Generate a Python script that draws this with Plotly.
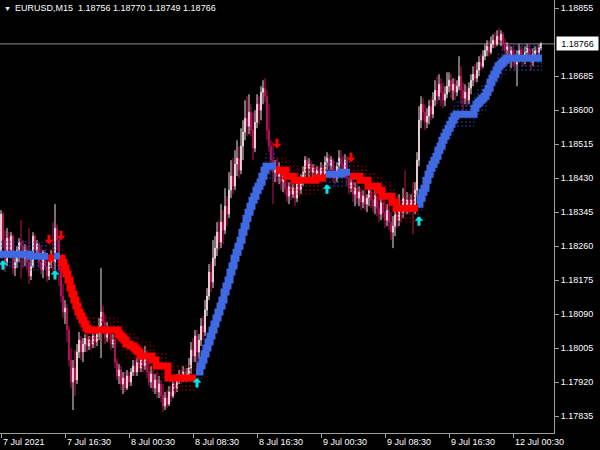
import plotly.graph_objects as go

# ---------------- data ----------------
symbol = "EURUSD,M15"

tick_bars = [0, 32, 64, 96, 128, 160, 192, 224, 256]
tick_labels = ["7 Jul 2021", "7 Jul 16:30", "8 Jul 00:30", "8 Jul 08:30", "8 Jul 16:30",
               "9 Jul 00:30", "9 Jul 08:30", "9 Jul 16:30", "12 Jul 00:30"]

price_ticks = [1.17835, 1.17920, 1.18005, 1.18090, 1.18175, 1.18260, 1.18345,
               1.18430, 1.18515, 1.18600, 1.18685, 1.18855]

opens = [
    1.18235, 1.18340, 1.18275, 1.18220, 1.18280, 1.18250, 1.18285, 1.18205, 1.18220, 1.18250,
    1.18270, 1.18260, 1.18230, 1.18250, 1.18220, 1.18185, 1.18210, 1.18285, 1.18250, 1.18265,
    1.18220, 1.18200, 1.18245, 1.18210, 1.18185, 1.18220, 1.18235, 1.18220, 1.18305, 1.18275,
    1.18200, 1.18135, 1.18095, 1.18105, 1.18050, 1.17975, 1.17920, 1.17955, 1.17925, 1.17995,
    1.18025, 1.17995, 1.18015, 1.18030, 1.18010, 1.18025, 1.18015, 1.18035, 1.18020, 1.18040,
    1.18060, 1.18095, 1.18070, 1.18030, 1.18055, 1.18040, 1.18015, 1.18025, 1.17970, 1.17935,
    1.17950, 1.17915, 1.17930, 1.17905, 1.17935, 1.17920, 1.17945, 1.17960, 1.17945, 1.17970,
    1.17955, 1.17975, 1.17960, 1.17985, 1.17945, 1.17920, 1.17940, 1.17905, 1.17925, 1.17895,
    1.17915, 1.17885, 1.17860, 1.17880, 1.17865, 1.17895, 1.17885, 1.17915, 1.17905, 1.17925,
    1.17935, 1.17925, 1.17945, 1.17930, 1.17940, 1.17955, 1.18000, 1.17985, 1.18035, 1.17995,
    1.18025, 1.18060, 1.18045, 1.18100, 1.18135, 1.18195, 1.18170, 1.18230, 1.18255, 1.18295,
    1.18270, 1.18320, 1.18300, 1.18360, 1.18340, 1.18400, 1.18435, 1.18410, 1.18465, 1.18480,
    1.18450, 1.18510, 1.18545, 1.18580, 1.18560, 1.18595, 1.18550, 1.18505, 1.18570, 1.18615,
    1.18600, 1.18645, 1.18655, 1.18635, 1.18550, 1.18510, 1.18475, 1.18445, 1.18460, 1.18435,
    1.18450, 1.18420, 1.18435, 1.18405, 1.18385, 1.18410, 1.18390, 1.18405, 1.18380, 1.18415,
    1.18400, 1.18425, 1.18445, 1.18475, 1.18455, 1.18465, 1.18445, 1.18455, 1.18440, 1.18450,
    1.18435, 1.18455, 1.18440, 1.18470, 1.18480, 1.18460, 1.18475, 1.18445, 1.18430, 1.18460,
    1.18480, 1.18465, 1.18450, 1.18475, 1.18430, 1.18405, 1.18420, 1.18390, 1.18405, 1.18380,
    1.18395, 1.18370, 1.18385, 1.18365, 1.18380, 1.18400, 1.18375, 1.18360, 1.18385, 1.18355,
    1.18340, 1.18370, 1.18345, 1.18325, 1.18350, 1.18320, 1.18295, 1.18310, 1.18340, 1.18325,
    1.18360, 1.18345, 1.18380, 1.18360, 1.18375, 1.18355, 1.18375, 1.18350, 1.18400, 1.18475,
    1.18575, 1.18615, 1.18595, 1.18570, 1.18585, 1.18610, 1.18590, 1.18625, 1.18650, 1.18635,
    1.18665, 1.18645, 1.18625, 1.18640, 1.18660, 1.18675, 1.18650, 1.18665, 1.18645, 1.18660,
    1.18685, 1.18650, 1.18630, 1.18645, 1.18625, 1.18655, 1.18675, 1.18690, 1.18680, 1.18700,
    1.18720, 1.18710, 1.18735, 1.18750, 1.18760, 1.18745, 1.18765, 1.18775, 1.18765, 1.18785,
    1.18775, 1.18790, 1.18765, 1.18750, 1.18760, 1.18735, 1.18750, 1.18730, 1.18715, 1.18735,
    1.18750, 1.18740, 1.18725, 1.18745, 1.18755, 1.18735, 1.18720, 1.18740, 1.18750, 1.18745,
    1.18756,
]

highs = [
    1.18350, 1.18345, 1.18300, 1.18305, 1.18295, 1.18295, 1.18290, 1.18240, 1.18260, 1.18280,
    1.18325, 1.18275, 1.18265, 1.18260, 1.18305, 1.18230, 1.18295, 1.18290, 1.18275, 1.18270,
    1.18260, 1.18250, 1.18250, 1.18225, 1.18230, 1.18250, 1.18320, 1.18365, 1.18315, 1.18285,
    1.18220, 1.18165, 1.18125, 1.18115, 1.18060, 1.18005, 1.17975, 1.18000, 1.18015, 1.18045,
    1.18035, 1.18030, 1.18040, 1.18040, 1.18035, 1.18035, 1.18050, 1.18045, 1.18050, 1.18080,
    1.18205, 1.18110, 1.18090, 1.18070, 1.18060, 1.18050, 1.18040, 1.18030, 1.17980, 1.17965,
    1.17960, 1.17945, 1.17945, 1.17950, 1.17945, 1.17955, 1.17975, 1.17975, 1.17980, 1.17985,
    1.17990, 1.17995, 1.18010, 1.18000, 1.17970, 1.17960, 1.17950, 1.17940, 1.17945, 1.17935,
    1.17925, 1.17915, 1.17895, 1.17900, 1.17910, 1.17910, 1.17930, 1.17935, 1.17940, 1.17950,
    1.17950, 1.17960, 1.17955, 1.17955, 1.17980, 1.18020, 1.18030, 1.18050, 1.18050, 1.18040,
    1.18080, 1.18085, 1.18125, 1.18155, 1.18215, 1.18220, 1.18275, 1.18285, 1.18320, 1.18325,
    1.18365, 1.18350, 1.18405, 1.18385, 1.18445, 1.18475, 1.18480, 1.18500, 1.18525, 1.18510,
    1.18555, 1.18575, 1.18625, 1.18635, 1.18640, 1.18615, 1.18595, 1.18600, 1.18640, 1.18635,
    1.18660, 1.18675, 1.18680, 1.18650, 1.18615, 1.18525, 1.18520, 1.18475, 1.18480, 1.18470,
    1.18455, 1.18450, 1.18445, 1.18425, 1.18420, 1.18420, 1.18415, 1.18430, 1.18430, 1.18435,
    1.18440, 1.18460, 1.18485, 1.18485, 1.18480, 1.18475, 1.18465, 1.18465, 1.18460, 1.18460,
    1.18470, 1.18465, 1.18485, 1.18495, 1.18490, 1.18485, 1.18480, 1.18460, 1.18470, 1.18500,
    1.18500, 1.18485, 1.18490, 1.18485, 1.18445, 1.18435, 1.18430, 1.18420, 1.18415, 1.18410,
    1.18405, 1.18400, 1.18400, 1.18390, 1.18415, 1.18415, 1.18395, 1.18405, 1.18400, 1.18380,
    1.18390, 1.18385, 1.18375, 1.18365, 1.18365, 1.18345, 1.18335, 1.18360, 1.18385, 1.18390,
    1.18375, 1.18405, 1.18450, 1.18395, 1.18390, 1.18390, 1.18420, 1.18420, 1.18495, 1.18610,
    1.18635, 1.18630, 1.18615, 1.18605, 1.18625, 1.18630, 1.18645, 1.18675, 1.18685, 1.18690,
    1.18680, 1.18670, 1.18660, 1.18695, 1.18695, 1.18690, 1.18680, 1.18680, 1.18675, 1.18735,
    1.18710, 1.18670, 1.18665, 1.18660, 1.18670, 1.18690, 1.18710, 1.18715, 1.18720, 1.18735,
    1.18740, 1.18750, 1.18765, 1.18775, 1.18775, 1.18785, 1.18790, 1.18795, 1.18800, 1.18805,
    1.18800, 1.18795, 1.18780, 1.18770, 1.18765, 1.18760, 1.18760, 1.18750, 1.18750, 1.18765,
    1.18760, 1.18755, 1.18760, 1.18765, 1.18765, 1.18755, 1.18755, 1.18760, 1.18760, 1.18765,
    1.18770,
]

lows = [
    1.18230, 1.18255, 1.18195, 1.18210, 1.18235, 1.18230, 1.18190, 1.18185, 1.18205, 1.18220,
    1.18180, 1.18205, 1.18210, 1.18200, 1.18165, 1.18175, 1.18205, 1.18230, 1.18235, 1.18205,
    1.18190, 1.18180, 1.18200, 1.18170, 1.18175, 1.18205, 1.18195, 1.18200, 1.18250, 1.18160,
    1.18120, 1.18080, 1.18065, 1.18020, 1.17960, 1.17905, 1.17850, 1.17885, 1.17915, 1.17980,
    1.17975, 1.17970, 1.17995, 1.17995, 1.18000, 1.18000, 1.18005, 1.18005, 1.18010, 1.18025,
    1.17980, 1.18050, 1.18015, 1.18020, 1.18025, 1.18000, 1.18005, 1.17955, 1.17925, 1.17915,
    1.17900, 1.17890, 1.17895, 1.17900, 1.17910, 1.17910, 1.17935, 1.17935, 1.17935, 1.17945,
    1.17945, 1.17945, 1.17950, 1.17930, 1.17910, 1.17905, 1.17895, 1.17890, 1.17880, 1.17880,
    1.17870, 1.17845, 1.17850, 1.17855, 1.17860, 1.17870, 1.17880, 1.17890, 1.17895, 1.17915,
    1.17915, 1.17920, 1.17920, 1.17920, 1.17930, 1.17940, 1.17970, 1.17970, 1.17945, 1.17980,
    1.18010, 1.18025, 1.18035, 1.18085, 1.18125, 1.18145, 1.18155, 1.18210, 1.18235, 1.18250,
    1.18255, 1.18265, 1.18290, 1.18310, 1.18330, 1.18380, 1.18390, 1.18400, 1.18435, 1.18430,
    1.18440, 1.18475, 1.18525, 1.18535, 1.18540, 1.18535, 1.18475, 1.18495, 1.18555, 1.18565,
    1.18575, 1.18615, 1.18620, 1.18525, 1.18495, 1.18445, 1.18365, 1.18420, 1.18420, 1.18415,
    1.18400, 1.18395, 1.18390, 1.18370, 1.18365, 1.18375, 1.18380, 1.18360, 1.18370, 1.18385,
    1.18390, 1.18410, 1.18420, 1.18435, 1.18430, 1.18430, 1.18430, 1.18430, 1.18425, 1.18420,
    1.18425, 1.18425, 1.18430, 1.18450, 1.18445, 1.18450, 1.18420, 1.18415, 1.18420, 1.18450,
    1.18445, 1.18435, 1.18440, 1.18410, 1.18390, 1.18395, 1.18370, 1.18360, 1.18365, 1.18360,
    1.18350, 1.18355, 1.18350, 1.18345, 1.18360, 1.18355, 1.18345, 1.18340, 1.18335, 1.18320,
    1.18325, 1.18330, 1.18305, 1.18310, 1.18300, 1.18275, 1.18255, 1.18285, 1.18305, 1.18310,
    1.18320, 1.18330, 1.18340, 1.18340, 1.18340, 1.18345, 1.18290, 1.18340, 1.18385, 1.18460,
    1.18555, 1.18575, 1.18550, 1.18555, 1.18565, 1.18575, 1.18580, 1.18610, 1.18615, 1.18625,
    1.18610, 1.18605, 1.18610, 1.18630, 1.18645, 1.18630, 1.18625, 1.18625, 1.18635, 1.18650,
    1.18615, 1.18595, 1.18615, 1.18610, 1.18615, 1.18640, 1.18660, 1.18670, 1.18670, 1.18685,
    1.18700, 1.18705, 1.18725, 1.18735, 1.18735, 1.18740, 1.18755, 1.18755, 1.18760, 1.18765,
    1.18760, 1.18750, 1.18735, 1.18730, 1.18715, 1.18705, 1.18710, 1.18700, 1.18660, 1.18720,
    1.18725, 1.18710, 1.18715, 1.18730, 1.18725, 1.18700, 1.18710, 1.18730, 1.18725, 1.18735,
    1.18749,
]

closes = [
    1.18340, 1.18275, 1.18220, 1.18280, 1.18250, 1.18285, 1.18205, 1.18220, 1.18250, 1.18270,
    1.18260, 1.18230, 1.18250, 1.18220, 1.18185, 1.18210, 1.18285, 1.18250, 1.18265, 1.18220,
    1.18200, 1.18245, 1.18210, 1.18185, 1.18220, 1.18235, 1.18220, 1.18305, 1.18275, 1.18200,
    1.18135, 1.18095, 1.18105, 1.18050, 1.17975, 1.17920, 1.17955, 1.17925, 1.17995, 1.18025,
    1.17995, 1.18015, 1.18030, 1.18010, 1.18025, 1.18015, 1.18035, 1.18020, 1.18040, 1.18060,
    1.18095, 1.18070, 1.18030, 1.18055, 1.18040, 1.18015, 1.18025, 1.17970, 1.17935, 1.17950,
    1.17915, 1.17930, 1.17905, 1.17935, 1.17920, 1.17945, 1.17960, 1.17945, 1.17970, 1.17955,
    1.17975, 1.17960, 1.17985, 1.17945, 1.17920, 1.17940, 1.17905, 1.17925, 1.17895, 1.17915,
    1.17885, 1.17860, 1.17880, 1.17865, 1.17895, 1.17885, 1.17915, 1.17905, 1.17925, 1.17935,
    1.17925, 1.17945, 1.17930, 1.17940, 1.17955, 1.18000, 1.17985, 1.18035, 1.17995, 1.18025,
    1.18060, 1.18045, 1.18100, 1.18135, 1.18195, 1.18170, 1.18230, 1.18255, 1.18295, 1.18270,
    1.18320, 1.18300, 1.18360, 1.18340, 1.18400, 1.18435, 1.18410, 1.18465, 1.18480, 1.18450,
    1.18510, 1.18545, 1.18580, 1.18560, 1.18595, 1.18550, 1.18505, 1.18570, 1.18615, 1.18600,
    1.18645, 1.18655, 1.18635, 1.18550, 1.18510, 1.18475, 1.18445, 1.18460, 1.18435, 1.18450,
    1.18420, 1.18435, 1.18405, 1.18385, 1.18410, 1.18390, 1.18405, 1.18380, 1.18415, 1.18400,
    1.18425, 1.18445, 1.18475, 1.18455, 1.18465, 1.18445, 1.18455, 1.18440, 1.18450, 1.18435,
    1.18455, 1.18440, 1.18470, 1.18480, 1.18460, 1.18475, 1.18445, 1.18430, 1.18460, 1.18480,
    1.18465, 1.18450, 1.18475, 1.18430, 1.18405, 1.18420, 1.18390, 1.18405, 1.18380, 1.18395,
    1.18370, 1.18385, 1.18365, 1.18380, 1.18400, 1.18375, 1.18360, 1.18385, 1.18355, 1.18340,
    1.18370, 1.18345, 1.18325, 1.18350, 1.18320, 1.18295, 1.18310, 1.18340, 1.18325, 1.18360,
    1.18345, 1.18380, 1.18360, 1.18375, 1.18355, 1.18375, 1.18350, 1.18400, 1.18475, 1.18575,
    1.18615, 1.18595, 1.18570, 1.18585, 1.18610, 1.18590, 1.18625, 1.18650, 1.18635, 1.18665,
    1.18645, 1.18625, 1.18640, 1.18660, 1.18675, 1.18650, 1.18665, 1.18645, 1.18660, 1.18685,
    1.18650, 1.18630, 1.18645, 1.18625, 1.18655, 1.18675, 1.18690, 1.18680, 1.18700, 1.18720,
    1.18710, 1.18735, 1.18750, 1.18760, 1.18745, 1.18765, 1.18775, 1.18765, 1.18785, 1.18775,
    1.18790, 1.18765, 1.18750, 1.18760, 1.18735, 1.18750, 1.18730, 1.18715, 1.18735, 1.18750,
    1.18740, 1.18725, 1.18745, 1.18755, 1.18735, 1.18720, 1.18740, 1.18750, 1.18745, 1.18756,
    1.18766,
]

# trend-line indicator value per bar
trend = [
    1.18240, 1.18240, 1.18240, 1.18240, 1.18240, 1.18240, 1.18240, 1.18240, 1.18240, 1.18240,
    1.18240, 1.18240, 1.18240, 1.18240, 1.18240, 1.18235, 1.18235, 1.18235, 1.18235, 1.18235,
    1.18235, 1.18235, 1.18235, 1.18235, 1.18230, 1.18230, 1.18230, 1.18235, 1.18235, 1.18235,
    1.18230, 1.18220, 1.18205, 1.18190, 1.18175, 1.18155, 1.18140, 1.18125, 1.18110, 1.18095,
    1.18085, 1.18075, 1.18065, 1.18055, 1.18050, 1.18050, 1.18050, 1.18050, 1.18050, 1.18050,
    1.18050, 1.18050, 1.18050, 1.18050, 1.18050, 1.18050, 1.18050, 1.18050, 1.18050, 1.18040,
    1.18035, 1.18030, 1.18025, 1.18015, 1.18015, 1.18010, 1.18010, 1.18005, 1.18000, 1.17995,
    1.17985, 1.17985, 1.17985, 1.17985, 1.17985, 1.17985, 1.17975, 1.17975, 1.17960, 1.17960,
    1.17960, 1.17960, 1.17960, 1.17960, 1.17930, 1.17930, 1.17930, 1.17930, 1.17930, 1.17930,
    1.17930, 1.17930, 1.17930, 1.17930, 1.17930, 1.17930, 1.17930, 1.17930, 1.17945, 1.17945,
    1.17960, 1.17975, 1.17990, 1.18005, 1.18020, 1.18035, 1.18050, 1.18065, 1.18080, 1.18095,
    1.18110, 1.18125, 1.18145, 1.18160, 1.18175, 1.18195, 1.18210, 1.18230, 1.18245, 1.18260,
    1.18275, 1.18295, 1.18310, 1.18330, 1.18345, 1.18360, 1.18375, 1.18385, 1.18400, 1.18410,
    1.18420, 1.18435, 1.18450, 1.18460, 1.18460, 1.18460, 1.18460, 1.18460, 1.18450, 1.18450,
    1.18450, 1.18450, 1.18450, 1.18435, 1.18435, 1.18435, 1.18435, 1.18425, 1.18425, 1.18425,
    1.18425, 1.18425, 1.18425, 1.18425, 1.18425, 1.18425, 1.18425, 1.18425, 1.18430, 1.18430,
    1.18430, 1.18430, 1.18430, 1.18440, 1.18440, 1.18440, 1.18440, 1.18440, 1.18440, 1.18440,
    1.18440, 1.18445, 1.18445, 1.18445, 1.18445, 1.18435, 1.18435, 1.18435, 1.18435, 1.18435,
    1.18425, 1.18425, 1.18425, 1.18425, 1.18410, 1.18410, 1.18410, 1.18410, 1.18410, 1.18400,
    1.18400, 1.18385, 1.18385, 1.18385, 1.18385, 1.18385, 1.18370, 1.18370, 1.18355, 1.18355,
    1.18355, 1.18355, 1.18355, 1.18355, 1.18355, 1.18355, 1.18355, 1.18355, 1.18355, 1.18365,
    1.18380, 1.18395, 1.18405, 1.18425, 1.18440, 1.18455, 1.18465, 1.18475, 1.18485, 1.18500,
    1.18510, 1.18525, 1.18535, 1.18545, 1.18555, 1.18565, 1.18575, 1.18585, 1.18590, 1.18590,
    1.18590, 1.18590, 1.18590, 1.18590, 1.18590, 1.18590, 1.18590, 1.18605, 1.18615, 1.18620,
    1.18625, 1.18630, 1.18635, 1.18645, 1.18655, 1.18670, 1.18680, 1.18690, 1.18700, 1.18710,
    1.18715, 1.18720, 1.18725, 1.18730, 1.18730, 1.18730, 1.18730, 1.18730, 1.18730, 1.18730,
    1.18730, 1.18730, 1.18730, 1.18730, 1.18730, 1.18730, 1.18730, 1.18730, 1.18730, 1.18730,
    1.18730,
]

# trend direction changes: first bar of each run and its direction
trend_switch_bars = [0, 24, 27, 30, 98, 138, 163, 175, 209]
trend_switch_dirs = ["up", "down", "up", "down", "up", "down", "up", "down", "up"]

# signal arrows: bar index and price at the arrow tip
buy_arrow_bars = [1, 27, 98, 163, 209]
buy_arrow_prices = [1.18225, 1.18200, 1.17930, 1.18415, 1.18335]
sell_arrow_bars = [24, 30, 138, 175]
sell_arrow_prices = [1.18265, 1.18275, 1.18505, 1.18470]

# ---------------- styling ----------------
BG = "#000000"
AXIS = "#a0a0a0"
TEXT = "#ffffff"
BULL = "#f7e0e3"
BEAR = "#c0145c"
UP_LINE = "#4169e1"
DOWN_LINE = "#ff0000"
UP_DOTS = "#2a3f9a"
DOWN_DOTS = "#8a0000"
BUY_ARROW = "#00e6e6"
SELL_ARROW = "#ff0000"
FONT = "Liberation Sans, Arial, sans-serif"
HALO = 0.00036  # half height of the dotted halo drawn around the trend line

fig = go.Figure()

n = len(trend)
runs = []
for k, start in enumerate(trend_switch_bars):
    end = trend_switch_bars[k + 1] - 1 if k + 1 < len(trend_switch_bars) else n - 1
    runs.append((start, end, trend_switch_dirs[k]))

# dotted halo behind everything
for start, end, d in runs:
    sx, sy = [], []
    for i in range(start, end + 1):
        sx += [i - 0.5, i + 0.5]
        sy += [trend[i], trend[i]]
    px = sx + sx[::-1]
    py = [v + HALO for v in sy] + [v - HALO for v in sy[::-1]]
    col = UP_DOTS if d == "up" else DOWN_DOTS
    fig.add_trace(go.Scatter(
        x=px, y=py, mode="lines", fill="toself",
        fillcolor="rgba(0,0,0,0)", line=dict(width=0),
        fillpattern=dict(shape=".", fgcolor=col, bgcolor="rgba(0,0,0,0)",
                         size=4, solidity=0.3),
        showlegend=False, hoverinfo="skip",
    ))

bars = list(range(n))
fig.add_trace(go.Candlestick(
    x=bars, open=opens, high=highs, low=lows, close=closes,
    increasing=dict(line=dict(color=BULL, width=1), fillcolor=BULL),
    decreasing=dict(line=dict(color=BEAR, width=1), fillcolor=BEAR),
    whiskerwidth=0, showlegend=False, hoverinfo="skip",
))

# trend line, one trace per run of equal direction (step drawing)
for start, end, d in runs:
    xs = [i - 0.5 for i in range(start, end + 1)] + [end + 0.5]
    ys = [trend[i] for i in range(start, end + 1)] + [trend[end]]
    color = UP_LINE if d == "up" else DOWN_LINE
    fig.add_trace(go.Scatter(
        x=xs, y=ys, mode="lines",
        line=dict(color=color, width=7, shape="hv"),
        showlegend=False, hoverinfo="skip",
    ))

annotations = []
for b, p in zip(buy_arrow_bars, buy_arrow_prices):
    annotations.append(dict(
        x=b, y=p, xref="x", yref="y", text="", showarrow=True,
        ax=0, ay=11, arrowhead=1, arrowsize=0.5, arrowwidth=3,
        arrowcolor=BUY_ARROW, standoff=0,
    ))
for b, p in zip(sell_arrow_bars, sell_arrow_prices):
    annotations.append(dict(
        x=b, y=p, xref="x", yref="y", text="", showarrow=True,
        ax=0, ay=-11, arrowhead=1, arrowsize=0.5, arrowwidth=3,
        arrowcolor=SELL_ARROW, standoff=0,
    ))

# time labels, left-aligned at their tick as in the terminal
for b, lab in zip(tick_bars, tick_labels):
    annotations.append(dict(
        x=b, y=0, xref="x", yref="paper", text=lab, showarrow=False,
        xanchor="left", yanchor="top", yshift=-2,
        font=dict(color=TEXT, size=9, family=FONT),
    ))

# header
annotations.append(dict(
    x=0, y=1, xref="paper", yref="paper", text="\u25bc", showarrow=False,
    xanchor="left", yanchor="top", xshift=2, yshift=-3,
    font=dict(color=TEXT, size=7, family=FONT),
))
header = (f"{symbol}\u00a0\u00a0{opens[-1]:.5f} {highs[-1]:.5f} "
          f"{lows[-1]:.5f} {closes[-1]:.5f}")
annotations.append(dict(
    x=0, y=1, xref="paper", yref="paper", text=header, showarrow=False,
    xanchor="left", yanchor="top", xshift=13, yshift=-1,
    font=dict(color=TEXT, size=9, family=FONT),
))

# last price tag
annotations.append(dict(
    x=1, y=closes[-1], xref="paper", yref="y", text=f"{closes[-1]:.5f}",
    showarrow=False, xanchor="left", yanchor="middle", xshift=2,
    bgcolor="#ffffff", width=41, height=13, borderpad=0,
    font=dict(color="#000000", size=9, family=FONT),
))

fig.update_layout(
    width=600, height=450,
    margin=dict(l=0, r=46, t=0, b=17),
    paper_bgcolor=BG, plot_bgcolor=BG,
    showlegend=False,
    boxgap=0.5,
    xaxis=dict(
        range=[-0.5, 276.5], rangeslider=dict(visible=False),
        showgrid=False, zeroline=False,
        showline=True, linecolor=AXIS, linewidth=1,
        ticks="outside", ticklen=4, tickcolor=AXIS, tickwidth=1,
        tickvals=tick_bars, showticklabels=False, fixedrange=True,
    ),
    yaxis=dict(
        side="right", range=[1.177925, 1.188758],
        showgrid=False, zeroline=False,
        showline=True, linecolor=AXIS, linewidth=1,
        ticks="outside", ticklen=4, tickcolor=AXIS, tickwidth=1,
        tickvals=price_ticks, ticktext=[f"{v:.5f}" for v in price_ticks],
        tickfont=dict(color=TEXT, size=9, family=FONT), fixedrange=True,
    ),
    shapes=[dict(
        type="line", xref="paper", yref="y", x0=0, x1=1,
        y0=closes[-1], y1=closes[-1], layer="below",
        line=dict(color="#8a8a8a", width=1),
    )],
    annotations=annotations,
)

fig.write_html(
    "out.html",
    config={"displayModeBar": False, "staticPlot": True},
    post_script="document.body.style.margin='0';document.body.style.background='#000';",
)
